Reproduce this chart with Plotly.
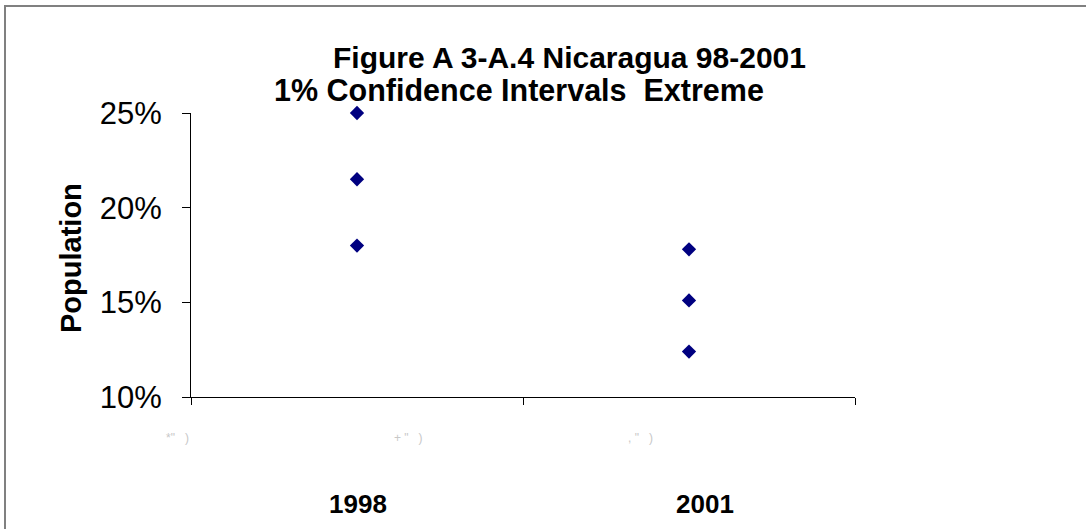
import plotly.graph_objects as go

# Data
categories = ["1998", "2001"]
cat_positions = [0.5, 1.5]
lower = [0.180, 0.124]
estimate = [0.215, 0.151]
upper = [0.250, 0.178]
y_ticks = [0.10, 0.15, 0.20, 0.25]
y_tick_labels = ["10%", "15%", "20%", "25%"]
x_ticks = [0, 1, 2]
x_tick_labels = ['*"   )', '+ "   )', ', "   )']
title_line1 = "Figure A 3-A.4 Nicaragua 98-2001"
title_line2 = "1% Confidence Intervals  Extreme"

W, H = 1086, 529
# plot area in page pixels: x 191..855, y 113..397
L, T = 191, 113
R = W - 855
B = H - 397
pw, ph = W - L - R, H - T - B

def px(x):
    return (x - L) / pw

def py(y):
    return (H - B - y) / ph

fig = go.Figure()
xs, ys = [], []
for i, c in enumerate(categories):
    for v in (lower[i], estimate[i], upper[i]):
        xs.append(cat_positions[i])
        ys.append(v)
fig.add_trace(go.Scatter(
    x=xs, y=ys, mode="markers",
    marker=dict(symbol="diamond", size=11, color="#000080", line=dict(width=0)),
    showlegend=False, hoverinfo="y", cliponaxis=False))

font_main = "Liberation Sans, Arial, sans-serif"

annotations = [
    dict(text="<b>%s</b>" % title_line1, x=px(569), y=py(57), xref="paper", yref="paper",
         showarrow=False, font=dict(family=font_main, size=30, color="black"),
         xanchor="center", yanchor="middle"),
    dict(text="<b>%s</b>" % title_line2, x=px(519), y=py(90), xref="paper", yref="paper",
         showarrow=False, font=dict(family=font_main, size=30.5, color="black"),
         xanchor="center", yanchor="middle"),
    dict(text="<b>Population</b>", x=px(71), y=py(258), xref="paper", yref="paper",
         showarrow=False, textangle=-90, font=dict(family=font_main, size=29, color="black"),
         xanchor="center", yanchor="middle"),
]
cat_label_px = [358, 705]
for c, xp in zip(categories, cat_label_px):
    annotations.append(dict(text="<b>%s</b>" % c, x=px(xp), y=py(504), xref="paper", yref="paper",
                            showarrow=False, font=dict(family=font_main, size=26, color="black"),
                            xanchor="center", yanchor="middle"))
tick_label_px = [177, 408, 640]
for t, xp in zip(x_tick_labels, tick_label_px):
    annotations.append(dict(text=t, x=px(xp), y=py(438), xref="paper", yref="paper",
                            showarrow=False, font=dict(family=font_main, size=12, color="#c8c8c8"),
                            xanchor="center", yanchor="middle"))

fig.update_layout(
    width=W, height=H,
    margin=dict(l=L, r=R, t=T, b=B, pad=0),
    paper_bgcolor="white", plot_bgcolor="white",
    annotations=annotations,
    shapes=[dict(type="rect", xref="paper", yref="paper",
                 x0=px(5), x1=px(1100), y0=py(545), y1=py(6),
                 line=dict(color="#808080", width=2), fillcolor="rgba(0,0,0,0)", layer="below")],
    xaxis=dict(range=[0, 2], tickvals=x_ticks, showticklabels=False, ticks="outside", ticklen=7,
               tickcolor="black", tickwidth=1, showline=True, linecolor="black", linewidth=1,
               showgrid=False, zeroline=False, fixedrange=True),
    yaxis=dict(range=[0.10, 0.25], tickvals=y_ticks, ticktext=y_tick_labels, ticks="outside",
               ticklen=8, tickcolor="black", tickwidth=1, showline=True, linecolor="black",
               linewidth=1, showgrid=False, zeroline=False, ticklabelstandoff=14,
               tickfont=dict(family=font_main, size=31, color="black"), fixedrange=True),
)

fig.write_html("out.html",
               config={"displayModeBar": False},
               post_script="document.body.style.margin='0';document.body.style.overflow='hidden';")
